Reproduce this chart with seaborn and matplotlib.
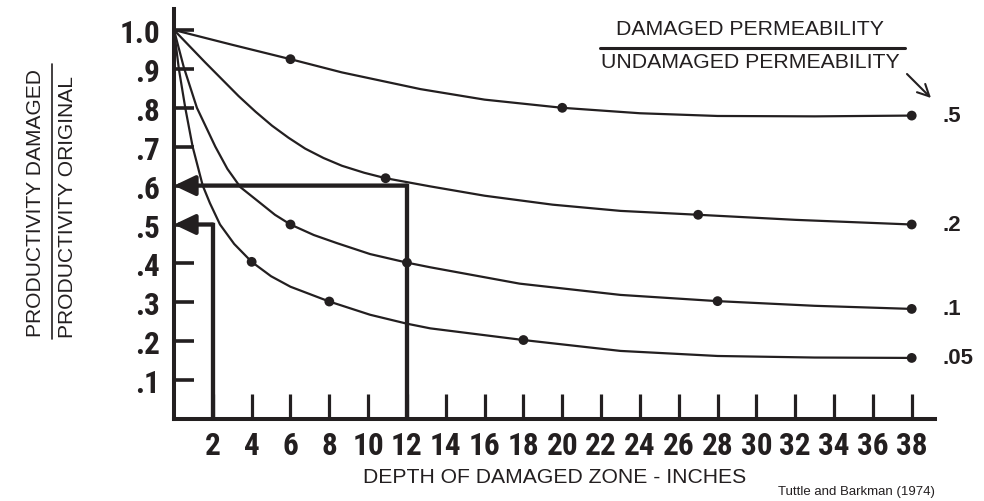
#!/usr/bin/env python

"""
Productivity ratio vs depth of damaged zone (Tuttle and Barkman, 1974).
"""

import pandas as pd
import matplotlib
matplotlib.use('Agg')
import matplotlib.pyplot as plt
from matplotlib import font_manager
from matplotlib.lines import Line2D
import seaborn as sns

# permeability ratio of each curve (damaged / undamaged)
ratios = ['.5', '.2', '.1', '.05']

# points
x_05 = [0, 3, 6, 8.65, 12.7, 16, 20, 24, 28, 33, 38]
y_05 = [1.0, 0.962, 0.925, 0.891, 0.848, 0.821, 0.80, 0.786, 0.779, 0.778, 0.78]

x_02 = [0, 1.6, 3.33, 4.2, 5.05, 5.9, 6.76, 7.7, 8.65, 9.8, 10.9, 13.2, 16,
        19.5, 23, 27, 32, 38]
y_02 = [1.0, 0.917, 0.83, 0.79, 0.754, 0.723, 0.695, 0.671, 0.651, 0.633,
        0.619, 0.598, 0.574, 0.551, 0.535, 0.525, 0.512, 0.50]

x_01 = [0, 0.5, 1.18, 2.13, 2.75, 3.42, 4.5, 5.2, 6, 7.2, 8.4, 10.1, 12, 13.2,
        17.8, 23, 28, 33, 38]
y_01 = [1.0, 0.905, 0.80, 0.70, 0.643, 0.596, 0.553, 0.525, 0.50, 0.473, 0.452,
        0.424, 0.402, 0.39, 0.348, 0.319, 0.303, 0.291, 0.283]

x_005 = [0, 0.25, 0.58, 0.96, 1.48, 1.85, 2.37, 3.1, 4, 5, 6, 8, 10.1, 12, 13.2,
         18, 23, 28, 33, 38]
y_005 = [1.0, 0.90, 0.80, 0.70, 0.60, 0.555, 0.50, 0.45, 0.404, 0.367, 0.34,
         0.302, 0.268, 0.245, 0.233, 0.203, 0.175, 0.162, 0.158, 0.157]

# marked points on each curve
dots_x = {'.5': [6, 20, 38], '.2': [10.9, 27, 38],
          '.1': [6, 12, 28, 38], '.05': [4, 8, 18, 38]}
dots_y = {'.5': [0.925, 0.80, 0.78], '.2': [0.619, 0.525, 0.50],
          '.1': [0.50, 0.402, 0.303, 0.283], '.05': [0.404, 0.302, 0.203, 0.157]}

# worked examples: depth -> productivity ratio
example_depth = [12, 2]
example_ratio = [0.6, 0.5]

x_ticks = list(range(2, 40, 2))
y_ticks = [0.1, 0.2, 0.3, 0.4, 0.5, 0.6, 0.7, 0.8, 0.9, 1.0]
y_tick_labels = ['.1', '.2', '.3', '.4', '.5', '.6', '.7', '.8', '.9', '1.0']

ink = '#231f20'

sns.set_theme(style='white')
plt.rcParams['font.family'] = ['Liberation Sans', 'DejaVu Sans']

installed = {f.name for f in font_manager.fontManager.ttflist}
narrow = next((n for n in ['Liberation Sans Narrow', 'Roboto Condensed',
                           'Open Sans Condensed', 'DejaVu Sans Condensed']
               if n in installed), 'Liberation Sans')

curves = pd.concat([
    pd.DataFrame({'depth': x_05, 'ratio': y_05, 'k': '.5'}),
    pd.DataFrame({'depth': x_02, 'ratio': y_02, 'k': '.2'}),
    pd.DataFrame({'depth': x_01, 'ratio': y_01, 'k': '.1'}),
    pd.DataFrame({'depth': x_005, 'ratio': y_005, 'k': '.05'}),
])
dots = pd.concat([pd.DataFrame({'depth': dots_x[k], 'ratio': dots_y[k], 'k': k})
                  for k in ratios])

W, H = 984, 502


def fx(px):
    return px / W


def fy(py):
    return 1 - py / H


fig = plt.figure(figsize=(W / 100, H / 100), dpi=100)
ax = fig.add_axes([fx(174), fy(420), fx(935) - fx(174), fy(10) - fy(420)])

palette = {k: ink for k in ratios}
sns.lineplot(data=curves, x='depth', y='ratio', hue='k', palette=palette,
             linewidth=1.6, legend=False, sort=False, estimator=None, ax=ax)
sns.scatterplot(data=dots, x='depth', y='ratio', hue='k', palette=palette,
                s=50, linewidth=0, legend=False, ax=ax, zorder=4)

# worked example arrows
for d, r in zip(example_depth, example_ratio):
    ax.plot([d, d], [0, r], color=ink, lw=3.1, solid_capstyle='projecting',
            solid_joinstyle='miter', zorder=3)
    ax.annotate('', xy=(0, r), xytext=(d, r),
                arrowprops=dict(arrowstyle='-|>,head_length=1.05,head_width=0.5',
                                lw=3.1, color=ink, shrinkA=0, shrinkB=0),
                zorder=3)

ax.set_xlim(0, 39.2)
ax.set_ylim(0, 1.054)
ax.set_xticks(x_ticks, labels=[str(t) for t in x_ticks])
ax.set_yticks(y_ticks, labels=y_tick_labels)
for lab in ax.get_xticklabels() + ax.get_yticklabels():
    lab.set_fontfamily(narrow)
    lab.set_fontweight('bold')
    lab.set_fontsize(22.5)
    lab.set_color(ink)

ax.tick_params(axis='x', direction='in', length=18, width=2.3, pad=8, colors=ink)
ax.tick_params(axis='y', direction='in', length=14.5, width=2.6, pad=10, colors=ink)
ax.tick_params(left=True, bottom=True)

for side in ['top', 'right']:
    ax.spines[side].set_visible(False)
for side in ['left', 'bottom']:
    ax.spines[side].set_linewidth(2.9)
    ax.spines[side].set_color(ink)
    ax.spines[side].set_capstyle('projecting')

ax.set_xlabel('DEPTH OF DAMAGED ZONE - INCHES', fontsize=15.2, color=ink)
ax.xaxis.set_label_coords(0.5, -0.118)
ax.set_ylabel('')

# curve labels at the right end
for k, ys in zip(ratios, [y_05, y_02, y_01, y_005]):
    ax.text(39.6, ys[-1], k, ha='left', va='center', fontsize=16,
            fontweight='bold', color=ink, clip_on=False)

# header fraction
fig.text(fx(750), fy(30), 'DAMAGED PERMEABILITY', ha='center', va='center',
         fontsize=15.3, color=ink)
fig.text(fx(750), fy(62), 'UNDAMAGED PERMEABILITY', ha='center', va='center',
         fontsize=15.3, color=ink)
fig.add_artist(Line2D([fx(600), fx(905)], [fy(49), fy(49)], color=ink, lw=2.2))
ax.annotate('', xy=(fx(931), fy(99)), xytext=(fx(907), fy(75)),
            xycoords='figure fraction', textcoords='figure fraction',
            arrowprops=dict(arrowstyle='->,head_length=0.7,head_width=0.35',
                            lw=1.5, color=ink, shrinkA=0, shrinkB=0))

# y-axis fraction label
fig.text(fx(36), fy(203), 'PRODUCTIVITY DAMAGED', rotation=90, ha='center',
         va='center', fontsize=15.1, color=ink)
fig.text(fx(68), fy(207), 'PRODUCTIVITY ORIGINAL', rotation=90, ha='center',
         va='center', fontsize=15.1, color=ink)
fig.add_artist(Line2D([fx(52), fx(52)], [fy(65), fy(340)], color=ink, lw=1.2))

fig.text(fx(935), fy(492), 'Tuttle and Barkman (1974)', ha='right', va='center',
         fontsize=9.5, color=ink)

fig.savefig('out.png', dpi=100)
